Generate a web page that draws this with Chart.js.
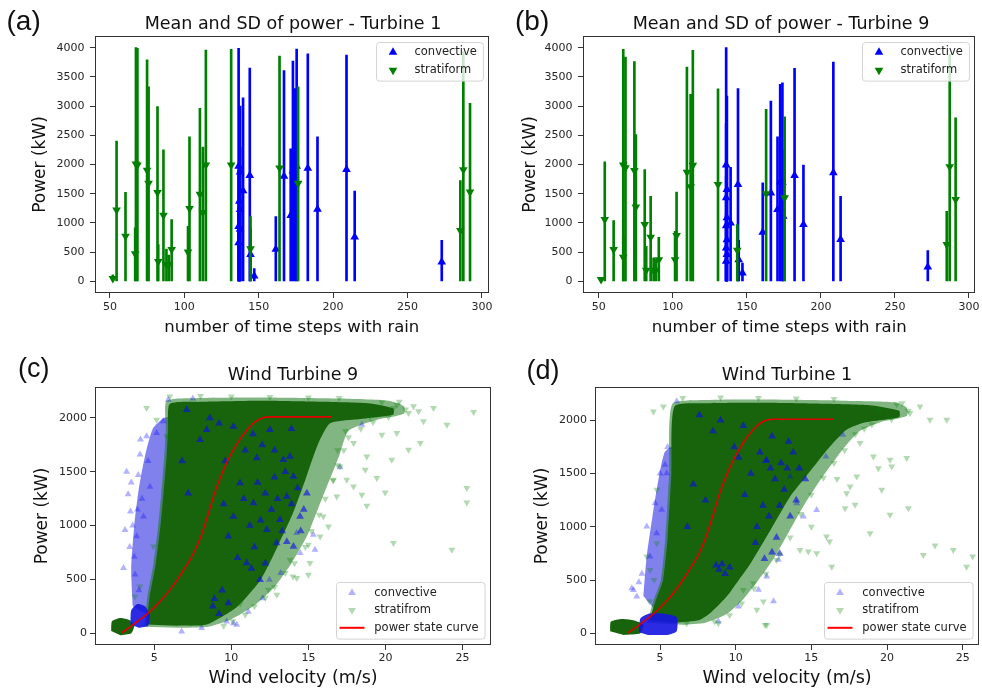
<!DOCTYPE html>
<html>
<head>
<meta charset="utf-8">
<script src="https://cdn.jsdelivr.net/npm/chart.js@4.4.1/dist/chart.umd.min.js"></script>
<style>
  body { margin: 0; background: #fff; }
  #fig { position: relative; width: 982px; height: 692px; overflow: hidden; font-family: 'DejaVu Sans', sans-serif; }
  canvas { position: absolute; }
  .ttl { position: absolute; font-size: 17.5px; line-height: 17.5px; white-space: nowrap; color: #111; transform: translateX(-50%); }
  .tag { position: absolute; font-family: 'Liberation Sans', Arial, sans-serif; line-height: 1; color: #111; white-space: nowrap; }
</style>
</head>
<body>
<div id="fig">
  <canvas id="ca" width="495" height="346" style="left:0;top:0"></canvas>
  <canvas id="cb" width="487" height="346" style="left:495px;top:0"></canvas>
  <canvas id="cc" width="495" height="346" style="left:0;top:346px"></canvas>
  <canvas id="cd" width="487" height="346" style="left:495px;top:346px"></canvas>

  <div class="ttl" style="left:293px;top:14.7px">Mean and SD of power - Turbine 1</div>
  <div class="ttl" style="left:781px;top:14.7px">Mean and SD of power - Turbine 9</div>
  <div class="ttl" style="left:293px;top:366.2px">Wind Turbine 9</div>
  <div class="ttl" style="left:787px;top:366.2px">Wind Turbine 1</div>

  <div class="tag" style="left:6.5px;top:6.7px;font-size:28px">(a)</div>
  <div class="tag" style="left:515px;top:6.7px;font-size:28px">(b)</div>
  <div class="tag" style="left:18px;top:355px;font-size:27px">(c)</div>
  <div class="tag" style="left:526.5px;top:356.8px;font-size:27px">(d)</div>
</div>

<script>
const FONT = "'DejaVu Sans', sans-serif";
Chart.defaults.font.family = FONT;
Chart.defaults.animation = false;

// (a) Turbine 1: number of rain time steps, mean power, top of the SD bar
const stepsConvA = [136.5, 137.5, 137, 137.5, 136.5, 137.5, 136.5, 139.5, 144, 144.5, 147, 161.5, 167, 171.5, 173, 174.5, 175.5, 183, 189.5, 209, 214.5, 273];
const meanConvA  = [1970, 1870, 1370, 1230, 940, 890, 660, 1550, 1810, 460, 90, 550, 1800, 1125, 1890, 1670, 1970, 1935, 1235, 1915, 760, 330];
const upperConvA = [3990, 3000, 2600, 2300, 1900, 1500, 1250, 3140, 3650, 900, 220, 1110, 3610, 2270, 3770, 3300, 3975, 3895, 2475, 3875, 1545, 700];

const stepsStratA = [52, 54.5, 60.5, 67, 67.5, 68.5, 75, 76, 82, 82.5, 86, 88, 89.5, 91.5, 102.5, 103.5, 110.5, 112.5, 114.5, 131.5, 144.5, 164, 176.5, 285.5, 287.5, 292];
const meanStratA  = [50, 1220, 770, 470, 2010, 1990, 1900, 1680, 1520, 340, 1130, 290, 290, 545, 500, 1245, 1490, 1180, 1990, 1990, 557, 1940, 1680, 870, 1910, 1530];
const upperStratA = [110, 2400, 1525, 914, 4000, 3990, 3790, 3330, 2990, 630, 2250, 554, 450, 1057, 943, 2474, 2960, 2300, 3960, 3970, 1110, 3857, 3330, 1726, 3930, 3046];

// (b) Turbine 9
const stepsConvB = [136, 136.5, 136, 136.5, 136, 136.5, 136, 136.5, 136, 139, 144, 144.5, 147, 160.7, 166.2, 170.7, 172.5, 174, 174.5, 182.2, 188.2, 208.4, 213.3, 272.2];
const meanConvB  = [1990, 1570, 1430, 1090, 950, 710, 570, 460, 345, 1000, 1658, 371, 143, 840, 1514, 1229, 1700, 1697, 1115, 1812, 972, 1858, 714, 246];
const upperConvB = [4000, 3170, 2700, 2000, 1800, 1400, 1150, 900, 700, 1950, 3298, 700, 314, 1686, 3086, 2475, 3372, 3400, 2250, 3646, 1989, 3755, 1457, 526];

const stepsStratB = [51.5, 54, 60, 66.5, 66.5, 68, 74, 75, 81, 82, 85, 87, 88.5, 90.5, 101.5, 102.5, 109.5, 112, 113.5, 130.5, 143.5, 163, 175.5, 285, 287, 291];
const meanStratB  = [30, 1057, 543, 411, 1990, 1943, 1897, 1274, 971, 189, 754, 189, 189, 371, 371, 783, 1869, 1617, 1988, 1657, 530, 1500, 1430, 629, 1960, 1400];
const upperStratB = [60, 2046, 1040, 783, 3971, 3840, 3760, 2514, 1914, 600, 1457, 400, 380, 754, 857, 1526, 3669, 3200, 3954, 3297, 970, 2943, 2817, 1200, 3886, 2800];

const stepTicks = [50, 100, 150, 200, 250, 300];
const powerTicksTop = [0, 500, 1000, 1500, 2000, 2500, 3000, 3500, 4000];

// power state curve (same turbine model in c and d)
const curveWind  = [2.9, 3.5, 4, 4.5, 5, 5.5, 6, 6.5, 7, 7.5, 8, 8.5, 9, 9.5, 10, 10.5, 11, 11.5, 12, 12.5, 16.5];
const curvePower = [5, 65, 120, 175, 240, 315, 400, 500, 610, 730, 890, 1110, 1340, 1520, 1670, 1790, 1885, 1960, 2000, 2010, 2010];

const windTicks = [5, 10, 15, 20, 25];
const powerTicksBottom = [0, 500, 1000, 1500, 2000];

// (c) Turbine 9 scatter: outlines of the dense clouds and the loose points around them
const blueZoneC = [[3.6,250],[3.5,600],[3.7,1000],[4.0,1350],[4.4,1650],[4.9,1900],[5.6,2000],[6.0,2000],[6.0,400],[5.0,150],[4.2,200]];
const haloC = [[4.35,60],[4.55,340],[4.95,650],[5.25,1000],[5.45,1300],[5.65,1650],[5.75,1900],[5.8,2160],[8,2185],[12,2190],[17,2180],[20.2,2160],[21.2,2110],[21.2,2040],[19.5,1985],[17.6,1880],[17.0,1650],[16.3,1400],[15.6,1150],[14.9,900],[13.9,650],[12.8,430],[11.5,260],[10,130],[8.5,60],[6.5,50]];
const coreC = [[4.5,80],[4.7,340],[5.1,650],[5.4,1000],[5.6,1300],[5.8,1650],[5.9,1900],[6.0,2130],[8,2150],[12,2160],[16,2150],[19,2135],[20.5,2090],[20.5,2030],[18,1985],[16.4,1950],[15.6,1750],[14.8,1426],[14.0,1116],[13.0,806],[11.9,496],[10.4,248],[8.4,80],[6.5,70]];
const lowBlobC = [[2.2,20],[2.25,110],[2.8,140],[3.4,120],[3.7,70],[3.5,0],[2.8,-20]];
const convBlobC = [[3.45,80],[3.5,210],[3.9,270],[4.4,250],[4.7,170],[4.6,70],[4.0,50]];
const convPatchC = [[13.8,1643],[14.03,1457],[13.6,1271],[14.46,1085],[12.94,837],[12.3,961],[11.43,1209],[10.56,1395],[10.99,651],[11.86,496],[10.13,1085],[14.03,806],[8.4,1891],[7.1,2077],[7.97,1798],[10.13,1922],[11.65,1627],[12.5,1891],[13.37,1612],[13.15,1054],[14.9,1300],[12.8,1450],[9.4,400],[8.8,250],[9.2,180],[11.5,800],[13.9,1900],[6.8,1600],[7.2,1300],
  [12.0,1750],[12.8,1700],[13.5,1500],[14.3,1350],[13.9,1200],[14.7,1150],[13.3,950],[12.6,1150],[11.9,1050],[11.2,1000],[10.8,1250],[11.7,1400],[12.2,1300],[13.0,1250],[14.5,950],[10.4,700],[11.3,600],[12.2,650],[13.6,850],[9.8,900],[9.5,1200],[10.9,1700],[11.4,1850],[9.6,1600],[8.6,2000],[9.2,1950],[8.9,320],[9.8,280]];
const convOutC = [[3.0,605],[3.1,960],[3.3,1290],[3.45,1130],[3.7,710],[3.75,545],[3.85,900],[3.96,1470],[4.07,1660],[4.3,1085],[4.5,1830],[4.72,1360],[5.15,1860],[5.58,1970],[4.2,1250],[3.6,1000],[4.0,400],[6.77,15],[8.07,47],[9.7,108],[10.13,93],[10.35,78],[12.03,325],[12.47,496],[14.24,930],[14.46,744],[15.32,914],[15.43,775],[17.06,1543],[18.47,1938],[13.2,560],[11.1,200],[3.2,1500],[4.6,1600],[5.9,2170],[7.5,2180],[3.4,800],[3.5,1400],[3.9,1150],[4.1,1800]];
const stratOutC = [[19.77,2145],[20.52,2093],[21.5,2046],[22.15,2062],[23.12,2093],[25.72,2056],[22.47,1969],[23.99,1938],[19.77,1845],[20.74,1860],[22.26,1767],[21.5,1705],[20.41,1612],[17.93,1767],[18.69,1519],[19.44,1442],[17.49,1426],[17.93,1364],[16.84,1271],[18.47,1287],[18.79,1184],[19.98,1308],[25.28,1349],[25.28,1215],[20.52,837],[24.31,775],[15.97,1085],[16.3,992],[15.76,899],[15.0,822],[14.24,512],[15.0,543],[12.95,357],[12.41,403],[10.57,273],[13.81,682],[16.62,1426],[17.06,1550],[18.79,1643],[21.82,2108],[20.74,2124],[4.5,2093],[5.15,1984],[5.8,1830],[3.74,341],[4.07,434],[4.94,806],[15.1,651],[14.0,527],[16.9,1700],[17.4,1880],[19.0,2010],
  [20.9,2150],[21.3,2080],[20.2,2010],[19.2,1960],[18.4,1900],[17.6,1820],[17.3,1700],[16.9,1560],[16.6,1420],[16.1,1250],[15.7,1100],[15.2,950],[14.8,800],[14.1,650],[13.5,560],[12.8,430],[12.2,330],[11.5,250],[10.9,170],[10.1,110],[9.5,70],[6,2200],[8,2205],[10,2200],[12.5,2195],[15,2190],[17,2185]];

// (d) Turbine 1 scatter
const blueZoneD = [[3.9,350],[4.1,700],[4.5,1100],[4.9,1450],[5.3,1700],[5.8,1750],[6.0,800],[5.5,350],[4.6,230]];
const haloD = [[4.15,100],[4.55,300],[5.05,500],[5.35,900],[5.6,1500],[5.8,2150],[8,2190],[12,2195],[17,2185],[20.5,2170],[21.3,2120],[21.3,2040],[19.6,1985],[18.2,1900],[17.2,1750],[16.3,1580],[15.4,1400],[14.5,1200],[13.5,950],[12.5,700],[11.5,500],[10.5,320],[9.4,180],[8.0,100],[6.5,80]];
const coreD = [[4.3,120],[4.7,300],[5.2,500],[5.5,900],[5.75,1500],[5.95,2130],[8,2160],[12,2165],[16,2155],[19,2140],[20.8,2090],[20.8,2030],[18.5,1980],[17.3,1910],[16.2,1750],[15.35,1600],[14.4,1430],[13.6,1285],[12.3,970],[11.0,660],[10.1,480],[9.4,345],[8.4,200],[7.6,125],[6,100]];
const lowBlobD = [[1.7,20],[1.75,110],[2.5,135],[3.3,120],[3.9,80],[3.7,0],[2.6,-15]];
const convBlobD = [[3.6,10],[3.7,140],[4.3,185],[5.2,185],[6.1,150],[6.1,20],[5.5,-15],[4.2,-15]];
const convPatchD = [[12.0,1620],[12.3,1550],[13.2,1350],[14.0,1250],[13.6,1100],[12.7,900],[11.8,1200],[11.0,1500],[9.9,1750],[10.5,1950],[8.9,600],[9.3,560],[9.1,650],[11.9,700],[12.4,760],[13.0,1600],[14.2,1550],[9.0,2000],[7.2,1400],[6.8,1000],[8.0,1250],[13.5,1800],
  [12.6,1450],[13.4,1550],[14.6,1450],[12.9,1200],[12.2,1100],[11.4,1000],[10.6,1300],[11.6,1700],[12.4,1850],[13.8,1700],[9.6,620],[8.7,640],[11.3,850],[12.9,750],[10.2,1650],[8.5,1900],[7.6,2050]];
const convOutD = [[3.24,407],[3.46,345],[3.13,423],[5.33,1583],[5.44,1504],[4.67,1222],[4.12,1003],[4.34,721],[4.78,940],[5.11,1160],[3.8,560],[5.0,1500],[5.5,1750],[12.05,1630],[13.59,1473],[14.03,1222],[15.35,1159],[14.47,1097],[12.82,690],[12.05,533],[11.5,408],[10.18,251],[8.85,110],[15.96,1661],[17.08,1864],[12.5,300],[6.1,2180],[3.6,480]];
const stratOutD = [[20.64,2148],[21.52,2069],[22.18,2131],[22.84,2006],[23.95,2006],[18.22,1787],[19.1,1661],[20.2,1630],[21.3,1646],[20.31,1567],[19.43,1551],[18.0,1473],[17.56,1379],[17.33,1316],[19.65,1348],[17.89,1207],[17.23,1175],[20.2,1113],[21.41,1175],[18.88,940],[16.0,909],[15.35,752],[16.2,862],[14.25,783],[14.8,767],[16.35,626],[22.4,736],[23.17,824],[24.38,783],[25.26,626],[25.66,720],[12.05,78],[11.83,298],[11.4,220],[4.56,2084],[5.22,2131],[4.78,1348],[4.12,721],[4.34,595],[4.78,846],[6.76,94],[8.85,94],[11.94,78],[10.5,407],[11.17,470],[12.7,689],[15.0,1000],[16.7,1450],[18.5,1920],[19.5,2100],
  [21.0,2160],[21.4,2090],[20.3,2010],[19.0,1960],[17.9,1870],[17.2,1720],[16.5,1600],[15.8,1460],[15.0,1300],[14.3,1120],[13.6,900],[12.9,740],[12.0,560],[11.2,420],[10.4,280],[9.6,170],[8.6,110],[6.5,2210],[9,2215],[11.5,2210],[14,2205],[16.5,2200],[4.3,300],[4.6,500]];

const xy = arr => arr.map(([x, y]) => ({x, y}));

// box around the plot area, like the matplotlib spines
const framePlugin = {
  id: 'frame',
  afterDatasetsDraw(chart) {
    const {ctx, chartArea: a} = chart;
    ctx.save();
    ctx.strokeStyle = '#333';
    ctx.lineWidth = 1;
    ctx.strokeRect(Math.floor(a.left) + 0.5, Math.floor(a.top) + 0.5,
                   Math.round(a.right - a.left) - 1, Math.round(a.bottom - a.top) - 1);
    ctx.restore();
  }
};

// legend drawn inside the plot area
const boxLegend = {
  id: 'boxLegend',
  afterDraw(chart, args, o) {
    if (!o.items) return;
    const {ctx, chartArea: a} = chart;
    ctx.save();
    ctx.font = o.fontSize + 'px ' + FONT;
    const tw = Math.max(...o.items.map(it => ctx.measureText(it.label).width));
    const w = o.textX + tw + 6;
    const h = o.pad * 2 + o.rowH * (o.items.length - 1);
    const x0 = Math.round(a.right - 6 - w);
    const y0 = Math.round(o.corner === 'top' ? a.top + 6 : a.bottom - 6 - h);
    ctx.beginPath();
    if (ctx.roundRect) ctx.roundRect(x0 + 0.5, y0 + 0.5, w, h, 3); else ctx.rect(x0 + 0.5, y0 + 0.5, w, h);
    ctx.fillStyle = 'rgba(255,255,255,0.8)';
    ctx.fill();
    ctx.strokeStyle = '#d4d4d4';
    ctx.lineWidth = 1;
    ctx.stroke();
    o.items.forEach((it, i) => {
      const cy = y0 + o.pad + i * o.rowH;
      const mx = x0 + o.markX;
      ctx.fillStyle = it.color;
      ctx.strokeStyle = it.color;
      if (it.kind === 'line') {
        ctx.lineWidth = 2;
        ctx.beginPath();
        ctx.moveTo(mx - 12.5, cy);
        ctx.lineTo(mx + 12.5, cy);
        ctx.stroke();
      } else {
        const s = it.kind === 'down' ? -1 : 1, r = o.markR;
        ctx.beginPath();
        ctx.moveTo(mx, cy - s * r);
        ctx.lineTo(mx + r * 0.866, cy + s * r * 0.5);
        ctx.lineTo(mx - r * 0.866, cy + s * r * 0.5);
        ctx.closePath();
        ctx.fill();
      }
      ctx.fillStyle = '#222';
      ctx.textBaseline = 'middle';
      ctx.textAlign = 'left';
      ctx.fillText(it.label, x0 + o.textX, cy);
    });
    ctx.restore();
  }
};

function scales(o) {
  const tickFont = {family: FONT, size: 11};
  const grid = {display: true, drawOnChartArea: false, drawTicks: true, tickLength: 5, tickWidth: 1, tickColor: '#333', offset: false};
  return {
    x: {
      type: 'linear', min: o.xmin, max: o.xmax, offset: false, grid, border: {display: false},
      afterBuildTicks: ax => { ax.ticks = o.xticks.map(v => ({value: v})); },
      afterFit: ax => { ax.height = o.xh; },
      ticks: {font: tickFont, color: '#262626', padding: o.xtp, maxRotation: 0, autoSkip: false, callback: v => String(v)},
      title: {display: true, text: o.xtitle, font: {family: FONT, size: o.xfs}, color: '#111', padding: {top: 0, bottom: o.xpad}}
    },
    y: {
      type: 'linear', min: o.ymin, max: o.ymax, grid, border: {display: false},
      afterBuildTicks: ax => { ax.ticks = o.yticks.map(v => ({value: v})); },
      afterFit: ax => { ax.width = o.yw; },
      ticks: {font: tickFont, color: '#262626', padding: o.ytp, autoSkip: false, callback: v => String(v)},
      title: {display: true, text: 'Power (kW)', font: {family: FONT, size: 17}, color: '#111', padding: {top: o.ypad, bottom: 0}}
    }
  };
}

function errChart(id, o) {
  const bars = (steps, upper) => steps.map((s, i) => ({x: s, y: [0, upper[i]]}));
  const marks = (steps, mean) => steps.map((s, i) => ({x: s, y: mean[i]}));
  return new Chart(document.getElementById(id), {
    type: 'scatter',
    data: {
      datasets: [
        {type: 'bar', data: bars(o.convSteps, o.convUpper), backgroundColor: '#0000ff', barThickness: 2, grouped: false, order: 4},
        {type: 'scatter', data: marks(o.convSteps, o.convMean), pointStyle: 'triangle', pointRadius: 5,
         backgroundColor: '#0000ff', borderWidth: 0, order: 3},
        {type: 'bar', data: bars(o.stratSteps, o.stratUpper), backgroundColor: '#008000', barThickness: 2, grouped: false, order: 2},
        {type: 'scatter', data: marks(o.stratSteps, o.stratMean), pointStyle: 'triangle', pointRotation: 180, pointRadius: 5,
         backgroundColor: '#008000', borderWidth: 0, order: 1}
      ]
    },
    options: {
      responsive: false, maintainAspectRatio: false, events: [],
      layout: {autoPadding: false, padding: o.padding},
      scales: scales(o),
      plugins: {
        legend: {display: false}, tooltip: {enabled: false},
        boxLegend: {corner: 'top', fontSize: 11.5, pad: 10.3, rowH: 18, markX: 17, textX: 38.5, markR: 5,
          items: [{label: 'convective', kind: 'up', color: '#0000ff'}, {label: 'stratiform', kind: 'down', color: '#008000'}]}
      }
    },
    plugins: [framePlugin, boxLegend]
  });
}

// dense part of a cloud, filled inside its outline
function polyDs(points, color, order) {
  return {type: 'line', data: xy(points), fill: 'shape', backgroundColor: color, borderColor: 'rgba(0,0,0,0)', borderWidth: 0,
          pointRadius: 0, tension: 0.2, order};
}

function ptsDs(points, color, down, order, r) {
  return {type: 'scatter', data: xy(points), pointStyle: 'triangle', pointRotation: down ? 180 : 0, pointRadius: r || 4,
          backgroundColor: color, borderWidth: 0, order};
}

function windChart(id, o) {
  return new Chart(document.getElementById(id), {
    type: 'scatter',
    data: {
      datasets: [
        polyDs(o.blueZone, 'rgba(45,45,225,0.6)', 10),
        polyDs(o.halo, 'rgba(25,120,25,0.55)', 9),
        polyDs(o.core, 'rgb(24,100,12)', 8),
        polyDs(o.lowBlob, 'rgb(24,100,12)', 7),
        polyDs(o.convBlob, 'rgba(20,20,225,0.9)', 6),
        ptsDs(o.convPatch, 'rgba(10,10,235,0.6)', false, 5, 4.5),
        ptsDs(o.convOut, 'rgba(0,0,255,0.3)', false, 4),
        ptsDs(o.stratOut, 'rgba(0,128,0,0.3)', true, 3),
        {type: 'line', data: curveWind.map((w, i) => ({x: w, y: curvePower[i]})), borderColor: '#e00000', borderWidth: 1.6,
         pointRadius: 0, cubicInterpolationMode: 'monotone', fill: false, order: 1}
      ]
    },
    options: {
      responsive: false, maintainAspectRatio: false, events: [],
      layout: {autoPadding: false, padding: o.padding},
      scales: scales(o),
      plugins: {
        legend: {display: false}, tooltip: {enabled: false},
        boxLegend: {corner: 'bottom', fontSize: 11.5, pad: 10.8, rowH: 17.5, markX: 16, textX: 38.3, markR: 4.5,
          items: [{label: 'convective', kind: 'up', color: 'rgba(0,0,255,0.3)'},
                  {label: 'stratifrom', kind: 'down', color: 'rgba(0,128,0,0.3)'},
                  {label: 'power state curve', kind: 'line', color: '#ff0000'}]}
      }
    },
    plugins: [framePlugin, boxLegend]
  });
}

const topAxes = {xmin: 40, xmax: 304.5, ymin: -200, ymax: 4200, xticks: stepTicks, yticks: powerTicksTop,
  xtitle: 'number of time steps with rain', xfs: 16.5, xpad: 8.6, xtp: 2.5, ytp: 5.5, xh: 53};

errChart('ca', Object.assign({}, topAxes, {
  padding: {top: 36, right: 4, left: 0, bottom: 0}, yw: 95, ypad: 30.7,
  convSteps: stepsConvA, convMean: meanConvA, convUpper: upperConvA,
  stratSteps: stepsStratA, stratMean: meanStratA, stratUpper: upperStratA
}));

errChart('cb', Object.assign({}, topAxes, {
  xmin: 39.3, xmax: 304.3,
  padding: {top: 36, right: 3, left: 0, bottom: 0}, yw: 88, ypad: 25.4,
  convSteps: stepsConvB, convMean: meanConvB, convUpper: upperConvB,
  stratSteps: stepsStratB, stratMean: meanStratB, stratUpper: upperStratB
}));

const bottomAxes = {ymin: -110, xticks: windTicks, yticks: powerTicksBottom,
  xtitle: 'Wind velocity (m/s)', xfs: 17.5, xpad: 2.75, xtp: 2, ytp: 3, xh: 47};

windChart('cc', Object.assign({}, bottomAxes, {
  xmin: 1.15, xmax: 26.85, ymax: 2288,
  padding: {top: 41, right: 4, left: 0, bottom: 0}, yw: 95, ypad: 32.2,
  blueZone: blueZoneC, halo: haloC, core: coreC, lowBlob: lowBlobC, convBlob: convBlobC,
  convPatch: convPatchC, convOut: convOutC, stratOut: stratOutC
}));

windChart('cd', Object.assign({}, bottomAxes, {
  xmin: 0.7, xmax: 26.08, ymax: 2313,
  padding: {top: 41, right: 3, left: 0, bottom: 0}, yw: 100, ypad: 37.2,
  blueZone: blueZoneD, halo: haloD, core: coreD, lowBlob: lowBlobD, convBlob: convBlobD,
  convPatch: convPatchD, convOut: convOutD, stratOut: stratOutD
}));
</script>
</body>
</html>
